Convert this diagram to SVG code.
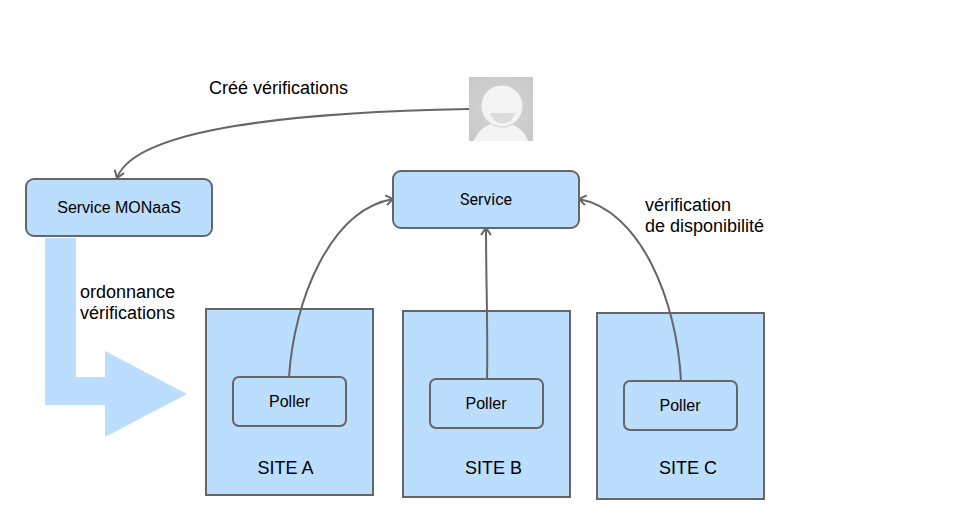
<svg xmlns="http://www.w3.org/2000/svg" width="971" height="531" viewBox="0 0 971 531">
<style>
text{font-family:"Liberation Sans",Arial,sans-serif;fill:#000}
.node{fill:#bbdeff;stroke:#666;stroke-width:2}
.c{fill:none;stroke:#666;stroke-width:2}
.ah{fill:none;stroke:#666;stroke-width:2}
.s16{font-size:16px}.s18{font-size:18px}
.rb{font-family:Roboto,sans-serif;font-size:16px}
</style>
<defs>
<marker id="a" viewBox="0 0 12 12" refX="10" refY="6" markerWidth="12" markerHeight="12" markerUnits="userSpaceOnUse" orient="auto"><path class="ah" d="M3 1L10 6L3 11"/></marker>
<radialGradient id="bg" cx="50%" cy="50%" r="70%"><stop offset="0" stop-color="#d6d6d6"/><stop offset="1" stop-color="#c8c8c8"/></radialGradient>
<clipPath id="ava"><rect x="469" y="77" width="64" height="64"/></clipPath>
</defs>
<rect width="971" height="531" fill="#fff"/>
<g id="arrow-ordonnance"><path d="M45 238H76V377H105V351L187 394L105 437V405H45Z" fill="#bbdeff"/></g>
<g id="site-a"><rect class="node" x="206" y="309" width="167" height="186"/><text class="s18" x="285.500" y="474" text-anchor="middle">SITE A</text></g>
<g id="site-b"><rect class="node" x="403" y="311" width="167" height="186"/><text class="s18" x="493.500" y="474" text-anchor="middle">SITE B</text></g>
<g id="site-c"><rect class="node" x="597" y="313" width="167" height="186"/><text class="s18" x="688" y="474" text-anchor="middle">SITE C</text></g>
<g id="connectors">
<path class="c" marker-end="url(#a)" d="M469 109C300 112 135 128 117 178"/>
<path class="c" marker-end="url(#a)" d="M289 377C294 300 330 210 393 199"/>
<path class="c" marker-end="url(#a)" d="M487 379C488 330 486 280 486 228"/>
<path class="c" marker-end="url(#a)" d="M681 381C677 300 640 210 579 199"/>
</g>
<g id="service-monaas"><rect class="node" x="26" y="179" width="186" height="57" rx="8"/><text class="s16" x="119" y="213" text-anchor="middle">Service MONaaS</text></g>
<g id="service"><rect class="node" x="393" y="171" width="186" height="57" rx="8"/><text class="rb" x="486" y="205" text-anchor="middle">Service</text></g>
<g id="poller-a"><rect class="node" x="233" y="377" width="113" height="49" rx="6"/><text class="s16" x="289.500" y="407" text-anchor="middle">Poller</text></g>
<g id="poller-b"><rect class="node" x="430" y="379" width="113" height="49" rx="6"/><text class="s16" x="486" y="409" text-anchor="middle">Poller</text></g>
<g id="poller-c"><rect class="node" x="624" y="381" width="113" height="49" rx="6"/><text class="s16" x="680" y="411" text-anchor="middle">Poller</text></g>
<g id="user"><rect x="469" y="77" width="64" height="64" fill="url(#bg)"/><g clip-path="url(#ava)"><ellipse cx="501" cy="151" rx="29" ry="29" fill="#f4f4f4"/><circle cx="502" cy="106" r="21" fill="#f4f4f4" stroke="#d0d0d0" stroke-width="1"/><path d="M490 113H515C511 127 494 127 490 113Z" fill="#dcdcdc"/></g></g>
<text class="s18" x="209" y="94">Créé vérifications</text>
<text class="s18" x="80" y="298">ordonnance</text>
<text class="s18" x="80" y="319">vérifications</text>
<text class="s18" x="645" y="211">vérification</text>
<text class="s18" x="645" y="232">de disponibilité</text>
</svg>
